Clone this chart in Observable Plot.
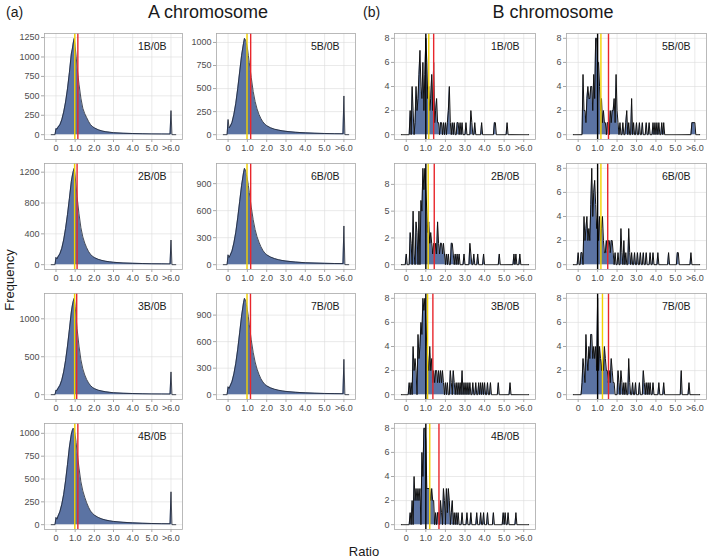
<!DOCTYPE html>
<html><head><meta charset="utf-8">
<script src="https://cdn.jsdelivr.net/npm/d3@7"></script>
<script src="https://cdn.jsdelivr.net/npm/@observablehq/plot@0.6"></script>
<style>
body{margin:0;background:#fff;}
#chart{position:relative;width:709px;height:559px;font-family:"Liberation Sans",Arial,sans-serif;overflow:hidden;background:#fff}
.lbl{position:absolute;white-space:nowrap;color:#1a1a1a;line-height:1}
.panel{position:absolute}
</style></head><body><div id="chart"></div>
<script>
// ---------- data ----------
const xTickValues = [0, 1, 2, 3, 4, 5, 6];
const xTickLabels = ["0", "1.0", "2.0", "3.0", "4.0", "5.0", ">6.0"];

// A chromosome: frequency read at ratio positions [ratio, count]
const A_1B = [[-0.25,0],[-0.05,0],[0,80],[0.05,70],[0.1,95],[0.2,125],[0.3,190],[0.4,290],[0.5,420],[0.6,590],[0.7,800],[0.8,1040],[0.85,1100],[0.9,1180],[0.95,1240],[1.0,1130],[1.05,1010],[1.1,870],[1.2,650],[1.3,470],[1.4,340],[1.5,270],[1.6,220],[1.7,170],[1.8,130],[1.9,105],[2.0,88],[2.2,64],[2.4,48],[2.6,38],[2.8,32],[3.0,26],[3.5,19],[4.0,15],[4.5,12],[5.0,10],[5.5,9],[5.95,8],[6.0,310],[6.05,0],[6.25,0]];
const A_5B = [[-0.25,0],[-0.05,0],[0,165],[0.05,75],[0.1,85],[0.2,130],[0.3,220],[0.4,340],[0.5,500],[0.6,680],[0.7,860],[0.8,990],[0.85,1045],[0.9,1030],[0.95,990],[1.0,940],[1.05,860],[1.1,780],[1.2,620],[1.3,470],[1.4,360],[1.5,280],[1.6,220],[1.7,175],[1.8,140],[1.9,115],[2.0,98],[2.2,75],[2.4,60],[2.6,50],[2.8,42],[3.0,36],[3.5,26],[4.0,20],[4.5,16],[5.0,13],[5.5,11],[5.95,10],[6.0,420],[6.05,0],[6.25,0]];
const A_2B = [[-0.25,0],[-0.05,0],[0,95],[0.05,75],[0.1,100],[0.2,140],[0.3,210],[0.4,320],[0.5,470],[0.6,650],[0.7,860],[0.8,1080],[0.85,1150],[0.9,1210],[0.95,1250],[1.0,1150],[1.05,1020],[1.1,880],[1.2,660],[1.3,480],[1.4,360],[1.5,280],[1.6,220],[1.7,170],[1.8,135],[1.9,110],[2.0,92],[2.2,70],[2.4,55],[2.6,44],[2.8,37],[3.0,31],[3.5,23],[4.0,18],[4.5,15],[5.0,12],[5.5,11],[5.95,10],[6.0,320],[6.05,0],[6.25,0]];
const A_6B = [[-0.25,0],[-0.05,0],[0,110],[0.05,80],[0.1,100],[0.2,150],[0.3,240],[0.4,360],[0.5,520],[0.6,700],[0.7,880],[0.8,1020],[0.85,1070],[0.9,1050],[0.95,1000],[1.0,950],[1.05,880],[1.1,800],[1.2,640],[1.3,500],[1.4,390],[1.5,310],[1.6,250],[1.7,200],[1.8,160],[1.9,130],[2.0,110],[2.2,85],[2.4,68],[2.6,56],[2.8,47],[3.0,40],[3.5,29],[4.0,22],[4.5,18],[5.0,15],[5.5,13],[5.95,12],[6.0,430],[6.05,0],[6.25,0]];
const A_3B = [[-0.25,0],[-0.05,0],[0,60],[0.05,55],[0.1,80],[0.2,120],[0.3,190],[0.4,300],[0.5,450],[0.6,640],[0.7,860],[0.8,1090],[0.85,1170],[0.9,1230],[0.95,1270],[1.0,1160],[1.05,1020],[1.1,870],[1.2,640],[1.3,460],[1.4,340],[1.5,260],[1.6,200],[1.7,155],[1.8,120],[1.9,97],[2.0,80],[2.2,60],[2.4,47],[2.6,38],[2.8,31],[3.0,26],[3.5,19],[4.0,15],[4.5,12],[5.0,10],[5.5,9],[5.95,8],[6.0,300],[6.05,0],[6.25,0]];
const A_7B = [[-0.25,0],[-0.05,0],[0,90],[0.05,70],[0.1,95],[0.2,145],[0.3,235],[0.4,355],[0.5,515],[0.6,700],[0.7,890],[0.8,1040],[0.85,1090],[0.9,1070],[0.95,1020],[1.0,960],[1.05,880],[1.1,790],[1.2,620],[1.3,480],[1.4,370],[1.5,290],[1.6,230],[1.7,180],[1.8,145],[1.9,118],[2.0,100],[2.2,77],[2.4,62],[2.6,51],[2.8,43],[3.0,37],[3.5,27],[4.0,21],[4.5,17],[5.0,14],[5.5,12],[5.95,11],[6.0,400],[6.05,0],[6.25,0]];
const A_4B = [[-0.25,0],[-0.05,0],[0,80],[0.05,60],[0.1,90],[0.2,140],[0.3,220],[0.4,330],[0.5,480],[0.6,660],[0.7,850],[0.8,990],[0.85,1030],[0.9,1055],[0.95,1040],[1.0,980],[1.05,900],[1.1,800],[1.2,620],[1.3,470],[1.4,370],[1.5,300],[1.6,240],[1.7,190],[1.8,150],[1.9,125],[2.0,105],[2.2,80],[2.4,62],[2.6,50],[2.8,42],[3.0,36],[3.5,26],[4.0,20],[4.5,16],[5.0,13],[5.5,11],[5.95,10],[6.0,360],[6.05,0],[6.25,0]];

// B chromosome: non-empty bins (bin width 0.05) [ratio, count]
const B_1B = [[0.2,2],[0.3,4],[0.35,2],[0.45,1],[0.5,4],[0.55,2],[0.6,3],[0.65,5],[0.7,7],[0.75,4],[0.8,3],[0.85,6],[0.9,2],[0.95,5],[1.0,8],[1.05,6],[1.1,3],[1.15,4],[1.2,2],[1.25,3],[1.3,5],[1.35,2],[1.4,6],[1.45,1],[1.5,2],[1.55,3],[1.6,1],[1.65,1],[1.75,1],[1.8,1],[1.9,1],[2.0,1],[2.1,1],[2.15,2],[2.2,4],[2.25,1],[2.35,1],[2.45,1],[2.6,1],[2.65,1],[2.75,1],[2.85,1],[3.05,1],[3.3,2],[3.35,1],[3.5,1],[3.85,1],[4.5,1],[4.55,1],[5.15,1]];
const B_5B = [[0.25,5],[0.3,2],[0.35,2],[0.4,1],[0.45,3],[0.5,4],[0.55,3],[0.6,3],[0.65,4],[0.7,4],[0.75,2],[0.8,5],[0.85,3],[0.9,8],[0.95,8],[1.0,6],[1.05,6],[1.1,4],[1.15,2],[1.2,3],[1.25,1],[1.3,2],[1.35,1],[1.4,1],[1.5,1],[1.55,1],[1.65,2],[1.7,1],[1.75,2],[1.8,2],[1.85,3],[1.9,1],[1.95,5],[2.0,2],[2.05,1],[2.15,1],[2.3,1],[2.45,1],[2.5,2],[2.6,1],[2.75,3],[2.85,1],[3.0,1],[3.15,1],[3.3,1],[3.5,1],[3.65,1],[3.85,1],[3.95,1],[4.05,1],[4.15,1],[4.3,1],[4.4,1],[5.85,1],[5.9,1],[5.95,1],[6.0,1]];
const B_2B = [[0.0,1],[0.2,3],[0.25,2],[0.35,5],[0.4,1],[0.5,4],[0.55,3],[0.65,5],[0.75,6],[0.8,5],[0.85,9],[0.9,7],[0.95,9],[1.0,7],[1.05,5],[1.1,3],[1.15,4],[1.2,2],[1.25,3],[1.3,2],[1.35,1],[1.4,2],[1.45,1],[1.5,2],[1.55,1],[1.6,4],[1.65,2],[1.7,1],[1.75,2],[1.8,2],[1.85,1],[1.9,2],[1.95,1],[2.05,1],[2.15,1],[2.3,2],[2.35,2],[2.4,1],[2.5,1],[2.6,1],[2.7,1],[2.95,1],[3.25,2],[3.3,1],[3.45,1],[3.65,1],[3.95,1],[4.75,1],[5.5,1],[5.6,1],[5.8,1]];
const B_6B = [[0.0,1],[0.15,1],[0.2,1],[0.3,4],[0.35,2],[0.4,3],[0.45,4],[0.5,2],[0.55,3],[0.6,2],[0.65,5],[0.7,8],[0.75,4],[0.8,6],[0.85,7],[0.9,5],[0.95,3],[1.0,4],[1.05,2],[1.1,4],[1.15,2],[1.2,3],[1.25,4],[1.3,2],[1.35,1],[1.4,1],[1.45,2],[1.5,1],[1.55,2],[1.6,2],[1.65,1],[1.7,2],[1.75,2],[1.8,1],[1.9,1],[2.05,1],[2.2,3],[2.25,1],[2.35,2],[2.45,1],[2.6,3],[2.65,1],[2.75,1],[2.9,1],[3.05,1],[3.2,1],[3.35,1],[3.5,1],[3.7,1],[3.85,1],[4.1,1],[4.65,1],[5.1,1],[5.15,1],[5.8,1]];
const B_3B = [[0.15,1],[0.25,1],[0.35,4],[0.4,2],[0.45,3],[0.5,2],[0.6,5],[0.65,3],[0.7,4],[0.75,6],[0.8,5],[0.85,8],[0.9,7],[0.95,8],[1.0,6],[1.05,4],[1.1,3],[1.15,2],[1.2,4],[1.25,2],[1.3,3],[1.35,1],[1.4,2],[1.45,1],[1.5,2],[1.55,2],[1.6,1],[1.65,2],[1.7,1],[1.75,2],[1.8,1],[1.85,2],[1.9,1],[2.0,1],[2.1,1],[2.25,2],[2.3,1],[2.4,2],[2.45,1],[2.55,1],[2.65,1],[2.75,1],[2.85,2],[2.95,1],[3.05,1],[3.15,1],[3.25,1],[3.4,1],[3.55,1],[3.7,1],[3.8,1],[3.9,1],[4.0,1],[4.15,1],[4.3,1],[4.7,1],[5.3,1]];
const B_7B = [[0.2,1],[0.25,3],[0.3,2],[0.35,1],[0.4,5],[0.45,3],[0.5,2],[0.55,4],[0.6,3],[0.65,5],[0.7,5],[0.75,3],[0.8,4],[0.85,3],[0.9,4],[0.95,2],[1.0,8],[1.05,2],[1.1,4],[1.15,3],[1.2,2],[1.25,3],[1.3,2],[1.35,4],[1.4,3],[1.45,2],[1.5,2],[1.55,1],[1.6,2],[1.65,1],[1.7,3],[1.75,2],[1.8,1],[1.85,1],[2.05,2],[2.1,1],[2.2,2],[2.25,1],[2.35,1],[2.45,1],[2.6,3],[2.65,1],[2.8,1],[2.95,1],[3.15,1],[3.35,2],[3.4,1],[3.5,1],[3.6,1],[3.7,1],[3.85,1],[4.15,1],[4.4,1],[5.3,2],[5.7,1]];
const B_4B = [[0.2,1],[0.3,2],[0.4,4],[0.45,2],[0.5,3],[0.55,2],[0.6,3],[0.65,2],[0.7,3],[0.8,6],[0.85,4],[0.9,8],[0.95,8],[1.0,7],[1.05,3],[1.1,3],[1.15,3],[1.2,3],[1.25,2],[1.3,3],[1.35,2],[1.4,2],[1.5,1],[1.6,1],[1.65,1],[1.75,2],[1.8,1],[1.9,3],[1.95,2],[2.05,3],[2.1,1],[2.15,3],[2.2,2],[2.3,1],[2.35,2],[2.45,1],[2.55,1],[2.65,1],[2.85,1],[3.1,1],[3.3,1],[3.6,1],[3.8,1],[3.95,1],[4.15,1],[4.45,1],[4.95,1],[5.05,1],[5.2,1],[5.6,1]];

// y-axis ticks per panel
const A_1B_ticks = [0, 250, 500, 750, 1000, 1250];
const A_5B_ticks = [0, 250, 500, 750, 1000];
const A_2B_ticks = [0, 400, 800, 1200];
const A_6B_ticks = [0, 300, 600, 900];
const A_3B_ticks = [0, 500, 1000];
const A_7B_ticks = [0, 300, 600, 900];
const A_4B_ticks = [0, 250, 500, 750, 1000];
const B_ticks = [0, 2, 4, 6, 8];
const B_2B_ticks = [0, 2.5, 5, 7.5];
const B_2B_tickLabels = ["0", "2", "5", "8"];

// reference lines: A = [yellow, red]; B = [black, yellow, red]
const A_1B_lines = [0.98, 1.14];
const A_5B_lines = [0.98, 1.17];
const A_2B_lines = [0.97, 1.10];
const A_6B_lines = [0.98, 1.17];
const A_3B_lines = [0.97, 1.08];
const A_7B_lines = [0.98, 1.16];
const A_4B_lines = [0.98, 1.14];
const B_1B_lines = [1.0, 1.15, 1.40];
const B_5B_lines = [1.0, 1.17, 1.56];
const B_2B_lines = [1.0, 1.12, 1.43];
const B_6B_lines = [1.0, 1.17, 1.52];
const B_3B_lines = [1.0, 1.09, 1.36];
const B_7B_lines = [1.0, 1.25, 1.56];
const B_4B_lines = [1.0, 1.20, 1.67];
const A_lineColors = ["#f2d200", "#e8262c"];
const B_lineColors = ["#000000", "#f2d200", "#e8262c"];

// ---------- layout ----------
const colFrames = [[44, 182], [216, 355], [394, 535], [566, 706]];
const rowTops = [33, 163, 293, 423];
const frameH = 106;
const mL = 38, mR = 3, mT = 3, mB = 18;

function fillBins(sparse) {
  const m = new Map(sparse.map(([x, n]) => [Math.round(x * 20), n]));
  const out = [];
  for (let k = -5; k <= 125; k++) out.push([k / 20, m.get(k) || 0]);
  return out;
}

const panels = [
  {kind:"A", col:0, row:0, label:"1B/0B", data:A_1B, ticks:A_1B_ticks, lines:A_1B_lines},
  {kind:"A", col:1, row:0, label:"5B/0B", data:A_5B, ticks:A_5B_ticks, lines:A_5B_lines},
  {kind:"A", col:0, row:1, label:"2B/0B", data:A_2B, ticks:A_2B_ticks, lines:A_2B_lines},
  {kind:"A", col:1, row:1, label:"6B/0B", data:A_6B, ticks:A_6B_ticks, lines:A_6B_lines},
  {kind:"A", col:0, row:2, label:"3B/0B", data:A_3B, ticks:A_3B_ticks, lines:A_3B_lines},
  {kind:"A", col:1, row:2, label:"7B/0B", data:A_7B, ticks:A_7B_ticks, lines:A_7B_lines},
  {kind:"A", col:0, row:3, label:"4B/0B", data:A_4B, ticks:A_4B_ticks, lines:A_4B_lines},
  {kind:"B", col:2, row:0, label:"1B/0B", data:fillBins(B_1B), ticks:B_ticks, lines:B_1B_lines},
  {kind:"B", col:3, row:0, label:"5B/0B", data:fillBins(B_5B), ticks:B_ticks, lines:B_5B_lines},
  {kind:"B", col:2, row:1, label:"2B/0B", data:fillBins(B_2B), ticks:B_2B_ticks, tickLabels:B_2B_tickLabels, lines:B_2B_lines},
  {kind:"B", col:3, row:1, label:"6B/0B", data:fillBins(B_6B), ticks:B_ticks, lines:B_6B_lines},
  {kind:"B", col:2, row:2, label:"3B/0B", data:fillBins(B_3B), ticks:B_ticks, lines:B_3B_lines},
  {kind:"B", col:3, row:2, label:"7B/0B", data:fillBins(B_7B), ticks:B_ticks, lines:B_7B_lines},
  {kind:"B", col:2, row:3, label:"4B/0B", data:fillBins(B_4B), ticks:B_ticks, lines:B_4B_lines}
];

const chart = document.getElementById("chart");
const fillColor = "#5b73a3";

for (const p of panels) {
  const [fl, fr] = colFrames[p.col];
  const ft = rowTops[p.row];
  const maxY = d3.max(p.data, d => d[1]);
  const yFmt = p.tickLabels ? (d => p.tickLabels[p.ticks.indexOf(d)]) : (d => String(d));
  const colors = p.kind === "A" ? A_lineColors : B_lineColors;
  const lineData = p.lines.map((v, i) => ({v, c: colors[i]}));
  const svg = Plot.plot({
    width: fr - fl + mL + mR,
    height: frameH + mT + mB,
    marginLeft: mL, marginRight: mR, marginTop: mT, marginBottom: mB,
    style: {fontFamily: '"Liberation Sans", Arial, sans-serif', fontSize: "9px", background: "transparent", overflow: "visible"},
    x: {domain: [-0.6, 6.6], label: null},
    y: {domain: [-0.05 * maxY, 1.05 * maxY], label: null},
    marks: [
      Plot.gridX(xTickValues, {stroke: "#dcdcdc", strokeOpacity: 1, strokeWidth: 0.6}),
      Plot.gridY(p.ticks, {stroke: "#dcdcdc", strokeOpacity: 1, strokeWidth: 0.6}),
      Plot.areaY(p.data, {x: d => d[0], y: d => d[1], fill: fillColor, curve: "linear"}),
      Plot.lineY(p.data, {x: d => d[0], y: d => d[1], stroke: p.kind === "A" ? "#1c2230" : "#111111", strokeWidth: p.kind === "A" ? 0.8 : 1, curve: "linear"}),
      Plot.ruleX(lineData, {x: "v", stroke: "c", strokeWidth: 1.4}),
      Plot.frame({stroke: "#a8a8a8", strokeWidth: 0.8}),
      Plot.axisX({ticks: xTickValues, tickFormat: d => xTickLabels[xTickValues.indexOf(d)], tickSize: 3, tickPadding: 2, stroke: "#a8a8a8", fill: "#4d4d4d", label: null}),
      Plot.axisY({ticks: p.ticks, tickFormat: yFmt, tickSize: 3, tickPadding: 2, stroke: "#a8a8a8", fill: "#4d4d4d", label: null}),
      Plot.text([p.label], {frameAnchor: "top-right", dx: -16, dy: 9, fontSize: 10.5, fill: "#1a1a1a"})
    ]
  });
  svg.classList.add("panel");
  svg.style.left = (fl - mL) + "px";
  svg.style.top = (ft - mT) + "px";
  chart.appendChild(svg);
}

function addLabel(text, x, y, size, anchor, rotate) {
  const d = document.createElement("div");
  d.className = "lbl";
  d.textContent = text;
  d.style.fontSize = size + "px";
  d.style.left = x + "px";
  d.style.top = y + "px";
  let t = anchor === "middle" ? "translate(-50%,-50%)" : "translate(0,-50%)";
  if (rotate) t += " rotate(-90deg)";
  d.style.transform = t;
  chart.appendChild(d);
}
addLabel("(a)", 6, 12, 14, "start");
addLabel("A chromosome", 208, 12, 18, "middle");
addLabel("(b)", 363, 12, 14, "start");
addLabel("B chromosome", 553, 12, 18, "middle");
addLabel("Frequency", 9, 280, 13, "middle", true);
addLabel("Ratio", 364, 551, 13, "middle");
</script>
</body></html>
